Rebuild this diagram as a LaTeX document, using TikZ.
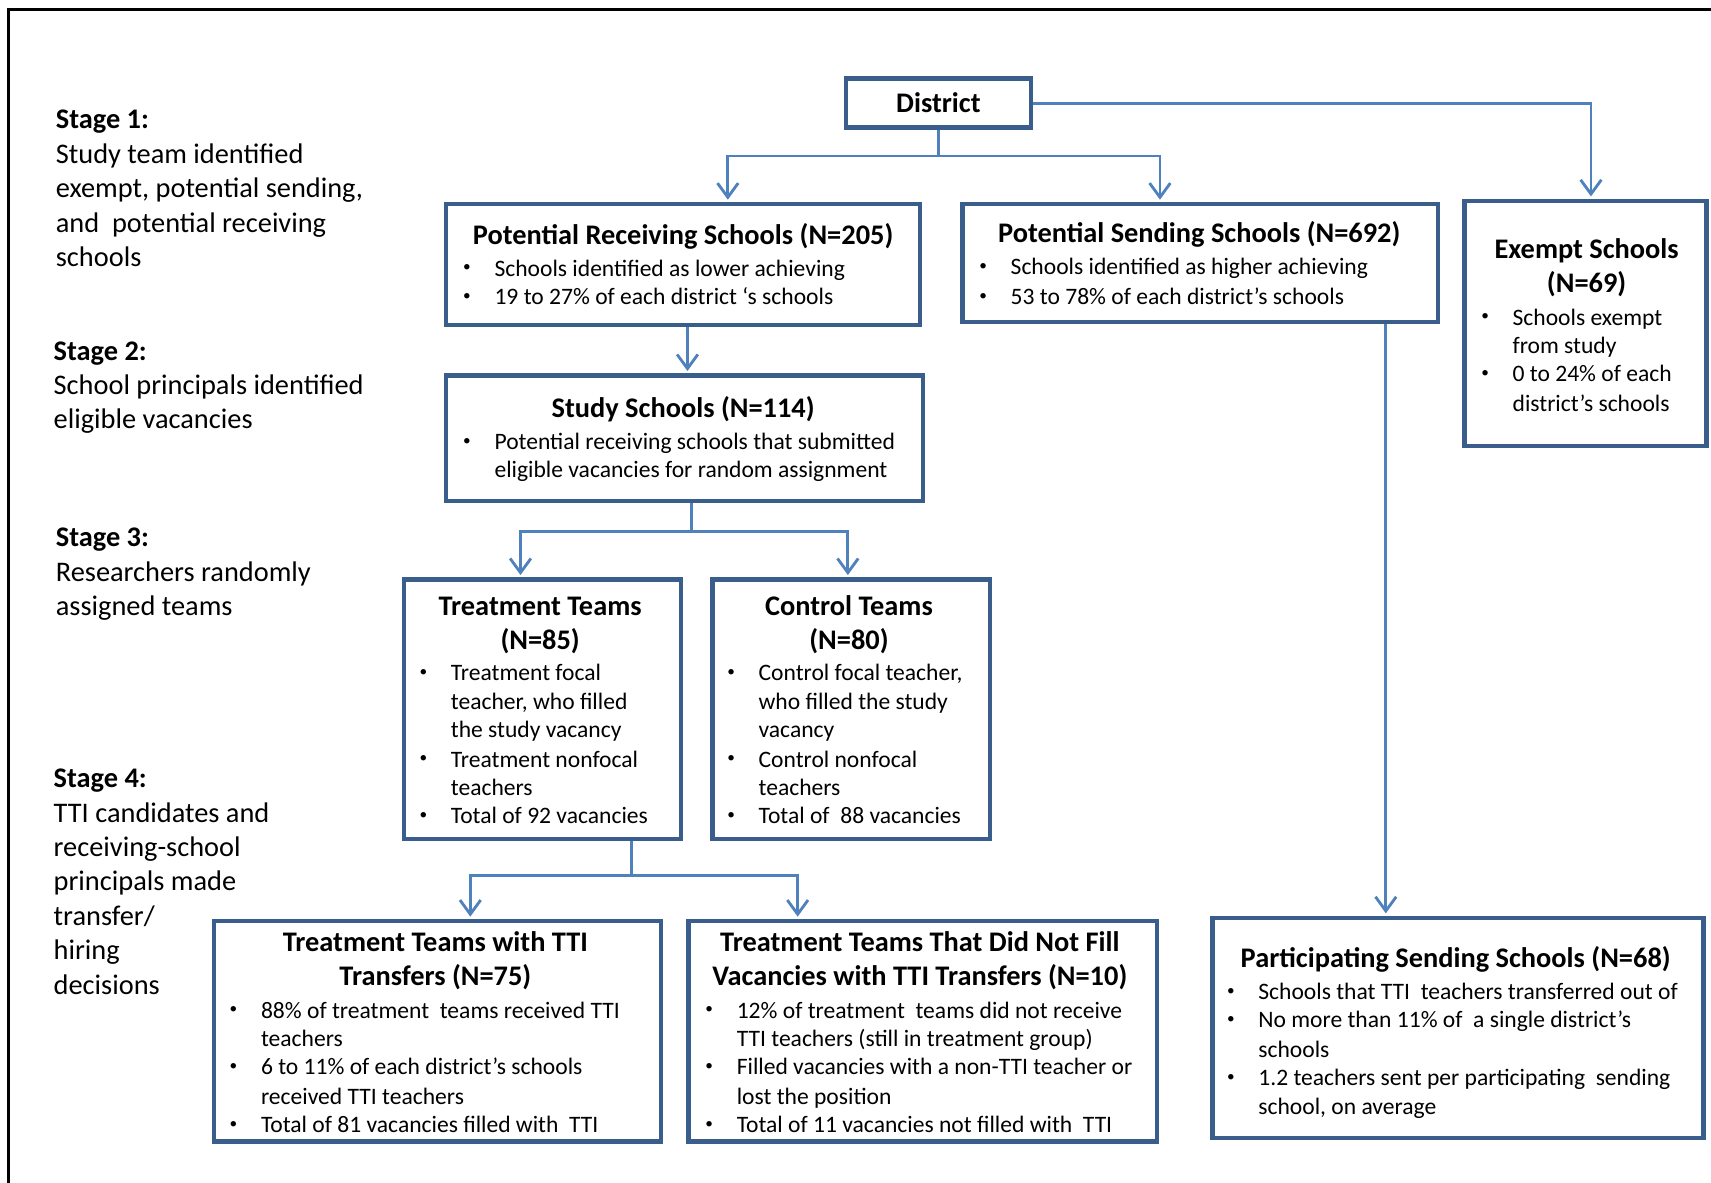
\documentclass[tikz,border=0pt]{standalone}
\usepackage{fontspec}
\setmainfont{Carlito}
\usetikzlibrary{arrows.meta,calc}

\definecolor{boxc}{HTML}{3A5E8C}
\definecolor{linec}{HTML}{4F81BD}

\newcommand\bodyfs{\fontsize{21.6pt}{26pt}\selectfont}
\newcommand\bulfs{\fontsize{14pt}{14pt}\selectfont}
\newcommand\ttlfs{\fontsize{26pt}{31pt}\selectfont\bfseries}
\newcommand\stgfs{\fontsize{26pt}{31.5pt}\selectfont}

% bullet item: name, text x, baseline y, text
\newcommand\itm[4]{%
  \node[bul] (#1b) at (#2-25,#3-4) {•};
  \node[txt] (#1) at (#2,#3) {#4};}
% continuation line of a bullet item
\newcommand\cont[4]{\node[txt] (#1) at (#2,#3) {#4};}

\tikzset{
  x=1pt, y=-1pt,
  box/.style={draw=boxc, line width=4pt, inner sep=0pt, rectangle},
  conn/.style={draw=linec, line width=2.6pt},
  arr/.style={conn, -{Straight Barb[length=13pt,width=19pt]}, shorten >=2pt},
  txt/.style={anchor=base west, inner sep=0pt, font=\bodyfs},
  bul/.style={anchor=base, inner sep=0pt, font=\bulfs},
  ttl/.style={anchor=base, inner sep=0pt, font=\ttlfs},
  stg/.style={anchor=base west, inner sep=0pt, font=\stgfs},
  stgh/.style={anchor=base west, inner sep=0pt, font=\stgfs\bfseries},
}

\begin{document}
\begin{tikzpicture}
\useasboundingbox (0,0) rectangle (1568,1084);
\fill[white] (0,0) rectangle (1568,1084);

% outer frame
\draw[black, line width=2.6pt] (8,1090) -- (8,8.5) -- (1575,8.5);

% stage descriptions
\node[stgh] (s1h) at (51,118) {Stage 1:};
\node[stg] (s1a) at (51,149.5) {Study team identified};
\node[stg] (s1b) at (51,181) {exempt, potential sending,};
\node[stg] (s1c) at (51,213) {and~ potential receiving};
\node[stg] (s1d) at (51,244.5) {schools};

\node[stgh] (s2h) at (49,330) {Stage 2:};
\node[stg] (s2a) at (49,361.5) {School principals identified};
\node[stg] (s2b) at (49,393) {eligible vacancies};

\node[stgh] (s3h) at (51,501) {Stage 3:};
\node[stg] (s3a) at (51,532.5) {Researchers randomly};
\node[stg] (s3b) at (51,564) {assigned teams};

\node[stgh] (s4h) at (49,722) {Stage 4:};
\node[stg] (s4a) at (49,753.5) {TTI candidates and};
\node[stg] (s4b) at (49,785) {receiving-school};
\node[stg] (s4c) at (49,816.5) {principals made};
\node[stg] (s4d) at (49,848) {transfer/};
\node[stg] (s4e) at (49,879.5) {hiring};
\node[stg] (s4f) at (49,911) {decisions};

% boxes
\node[box, minimum width=170pt, minimum height=45pt]  (dist) at (860,94.5) {};
\node[box, minimum width=434pt, minimum height=111pt] (pr)   at (626,242.5) {};
\node[box, minimum width=436pt, minimum height=108pt] (ps)   at (1100,241) {};
\node[box, minimum width=222pt, minimum height=225pt] (ex)   at (1453,296.5) {};
\node[box, minimum width=437pt, minimum height=115pt] (st)   at (627.5,401.5) {};
\node[box, minimum width=254pt, minimum height=238pt] (tr)   at (497,650) {};
\node[box, minimum width=254pt, minimum height=238pt] (ct)   at (780,650) {};
\node[box, minimum width=410pt, minimum height=202pt] (ta)   at (401,945) {};
\node[box, minimum width=429pt, minimum height=202pt] (dn)   at (845.5,945) {};
\node[box, minimum width=450pt, minimum height=202pt] (pa)   at (1336,942) {};

% box texts
\node[ttl] (distT) at (860,103) {District};

\node[ttl] (prT) at (626,224) {Potential Receiving Schools (N=205)};
\itm{pr1}{453}{253}{Schools identified as lower achieving}
\itm{pr2}{453}{279}{19 to 27\% of each district ‘s schools}

\node[ttl] (psT) at (1099,222) {Potential Sending Schools (N=692)};
\itm{ps1}{926}{252}{Schools identified as higher achieving}
\itm{ps2}{926}{279}{53 to 78\% of each district’s schools}

\node[ttl] (exT1) at (1454,237) {Exempt Schools};
\node[ttl] (exT2) at (1454,268) {(N=69)};
\itm{ex1}{1386}{298}{Schools exempt}
\cont{ex1c}{1386}{324}{from study}
\itm{ex2}{1386}{350}{0 to 24\% of each}
\cont{ex2c}{1386}{377}{district’s schools}

\node[ttl] (stT) at (626,383) {Study Schools (N=114)};
\itm{st1}{453}{412}{Potential receiving schools that submitted}
\cont{st1c}{453}{438}{eligible vacancies for random assignment}

\node[ttl] (trT1) at (495,564) {Treatment Teams};
\node[ttl] (trT2) at (495,595) {(N=85)};
\itm{tr1}{413}{624}{Treatment focal}
\cont{tr1c}{413}{650}{teacher, who filled}
\cont{tr1d}{413}{676}{the study vacancy}
\itm{tr2}{413}{703}{Treatment nonfocal}
\cont{tr2c}{413}{729}{teachers}
\itm{tr3}{413}{755}{Total of 92 vacancies}

\node[ttl] (ctT1) at (778,564) {Control Teams};
\node[ttl] (ctT2) at (778,595) {(N=80)};
\itm{ct1}{695}{624}{Control focal teacher,}
\cont{ct1c}{695}{650}{who filled the study}
\cont{ct1d}{695}{676}{vacancy}
\itm{ct2}{695}{703}{Control nonfocal}
\cont{ct2c}{695}{729}{teachers}
\itm{ct3}{695}{755}{Total of~ 88 vacancies}

\node[ttl] (taT1) at (399,872) {Treatment Teams with TTI};
\node[ttl] (taT2) at (399,903) {Transfers (N=75)};
\itm{ta1}{239}{933}{88\% of treatment~ teams received TTI}
\cont{ta1c}{239}{959}{teachers}
\itm{ta2}{239}{985}{6 to 11\% of each district’s schools}
\cont{ta2c}{239}{1012}{received TTI teachers}
\itm{ta3}{239}{1038}{Total of 81 vacancies filled with~ TTI}

\node[ttl] (dnT1) at (843,872) {Treatment Teams That Did Not Fill};
\node[ttl] (dnT2) at (843,903) {Vacancies with TTI Transfers (N=10)};
\itm{dn1}{675}{933}{12\% of treatment~ teams did not receive}
\cont{dn1c}{675}{959}{TTI teachers (still in treatment group)}
\itm{dn2}{675}{985}{Filled vacancies with a non-TTI teacher or}
\cont{dn2c}{675}{1012}{lost the position}
\itm{dn3}{675}{1038}{Total of 11 vacancies not filled with~ TTI}

\node[ttl] (paT) at (1334,887) {Participating Sending Schools (N=68)};
\itm{pa1}{1153}{916}{Schools that TTI~ teachers transferred out of}
\itm{pa2}{1153}{942}{No more than 11\% of~ a single district’s}
\cont{pa2c}{1153}{969}{schools}
\itm{pa3}{1153}{995}{1.2 teachers sent per participating~ sending}
\cont{pa3c}{1153}{1021}{school, on average}

% connectors
\coordinate (j1a) at (667,143);
\coordinate (j1b) at (1063,143);
\draw[arr] (dist.south) |- (j1a) -- (j1a |- pr.north);
\draw[arr] (dist.south) |- (j1b) -- (j1b |- ps.north);
\draw[arr] (dist.east) -| ($(ex.north)+(5,0)$);

\draw[arr] ($(pr.south)+(4,0)$) -- ($(st.north)+(2.5,0)$);

\coordinate (j3a) at (477,487);
\coordinate (j3b) at (777,487);
\draw[arr] ($(st.south)+(6.5,0)$) |- (j3a) -- (j3a |- tr.north);
\draw[arr] ($(st.south)+(6.5,0)$) |- (j3b) -- (j3b |- ct.north);

\coordinate (j4a) at (431,802);
\coordinate (j4b) at (731,802);
\draw[arr] ($(tr.south)+(82,0)$) |- (j4a) -- (j4a |- ta.north);
\draw[arr] ($(tr.south)+(82,0)$) |- (j4b) -- (j4b |- dn.north);

\draw[arr] ($(ps.south)+(170,0)$) -- ($(pa.north)+(-66,0)$);
\end{tikzpicture}
\end{document}
